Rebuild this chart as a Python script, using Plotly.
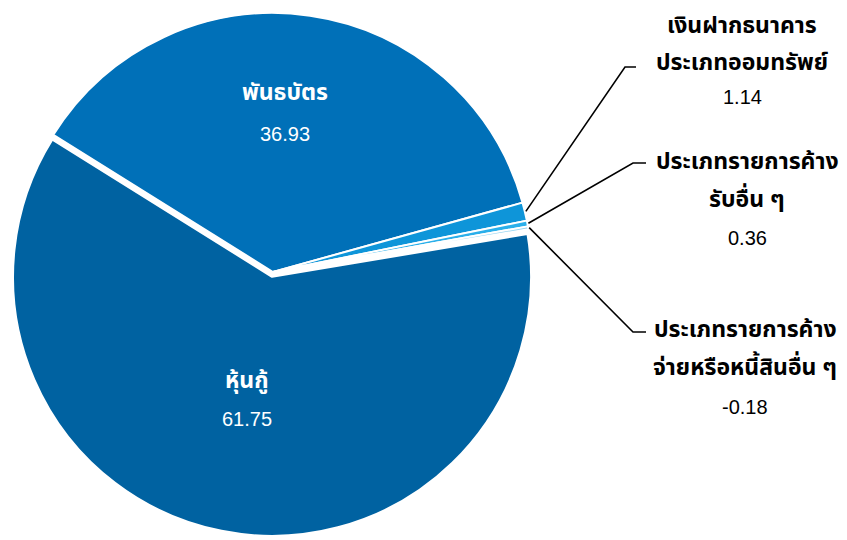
import math
import plotly.graph_objects as go

# ---- data ----
labels = ["พันธบัตร", "เงินฝากธนาคาร ประเภทออมทรัพย์", "ประเภทรายการค้างรับอื่น ๆ",
          "ประเภทรายการค้างจ่ายหรือหนี้สินอื่น ๆ", "หุ้นกู้"]
label_lines = [["พันธบัตร"],
               ["เงินฝากธนาคาร", "ประเภทออมทรัพย์"],
               ["ประเภทรายการค้าง", "รับอื่น ๆ"],
               ["ประเภทรายการค้าง", "จ่ายหรือหนี้สินอื่น ๆ"],
               ["หุ้นกู้"]]
values = [36.93, 1.14, 0.36, -0.18, 61.75]
value_text = ["36.93", "1.14", "0.36", "-0.18", "61.75"]

# ---- style ----
colors = ["#0070B8", "#0E95D9", "#2AAFEA", "#93D4F2", "#0062A1"]
pulls = [0, 0, 0, 0, 0.019]
W, H = 847, 540
OFF = 8                     # page body margin (px) in the screenshot
CX, CY = 273, 272           # pie centre in screen px
R = 259                     # pie radius (px)
HALF = R * (1 + max(pulls))
START = 148.0               # first slice start angle (math degrees)

sizes = [abs(v) for v in values]
total = sum(sizes)


def px2paper(x, y):
    return (x - OFF) / W, 1 - (y - OFF) / H


x0, y1 = px2paper(CX - HALF, CY - HALF)
x1, y0 = px2paper(CX + HALF, CY + HALF)
fig = go.Figure(go.Pie(
    labels=labels, values=sizes, sort=False, direction="clockwise",
    rotation=90 - START, pull=pulls, textinfo="none", hoverinfo="label+text",
    text=value_text,
    marker=dict(colors=colors, line=dict(color="white", width=2)),
    domain=dict(x=[max(0, x0), min(1, x1)], y=[max(0, y0), min(1, y1)]),
))

# leader lines for the small slices
elbows = {1: ((625, 67), (636, 67)), 2: ((633, 163), (646, 163)), 3: ((633, 332), (646, 332))}
ang = START
mids = []
for s in sizes:
    span = s / total * 360
    mids.append(ang - span / 2)
    ang -= span
shapes = []
for i, (e1, e2) in elbows.items():
    a = math.radians(mids[i])
    ex, ey = CX + (R + 1) * math.cos(a), CY - (R + 1) * math.sin(a)
    pts = [px2paper(ex, ey), px2paper(*e1), px2paper(*e2)]
    path = "M {} {} L {} {} L {} {}".format(*[c for p in pts for c in p])
    shapes.append(dict(type="path", xref="paper", yref="paper", path=path,
                       line=dict(color="black", width=1.6)))

# label positions: (x centre, title line y's, value y) in screen px
label_pos = {0: (285, [93], 134), 1: (742, [26, 63], 97), 2: (747, [162, 200], 238),
             3: (745, [330, 368], 407), 4: (247, [381], 419)}
thai_font = "Tahoma, 'Noto Sans Thai', 'Noto Sans Thai Looped', 'Leelawadee UI', sans-serif"
num_font = "Arial, 'Liberation Sans', sans-serif"
annotations = []
for i, (x, ys, vy) in label_pos.items():
    col = "white" if i in (0, 4) else "black"
    for line, y in zip(label_lines[i], ys):
        px, py = px2paper(x, y)
        annotations.append(dict(x=px, y=py, xref="paper", yref="paper", showarrow=False,
                                text="<b>" + line + "</b>", xanchor="center", yanchor="middle",
                                font=dict(family=thai_font, size=23, color=col)))
    px, py = px2paper(x, vy)
    annotations.append(dict(x=px, y=py, xref="paper", yref="paper", showarrow=False,
                            text=value_text[i], xanchor="center", yanchor="middle",
                            font=dict(family=num_font, size=20, color=col)))

fig.update_layout(width=W, height=H, margin=dict(l=0, r=0, t=0, b=0),
                  paper_bgcolor="white", plot_bgcolor="white", showlegend=False,
                  shapes=shapes, annotations=annotations)
fig.write_html("out.html")
